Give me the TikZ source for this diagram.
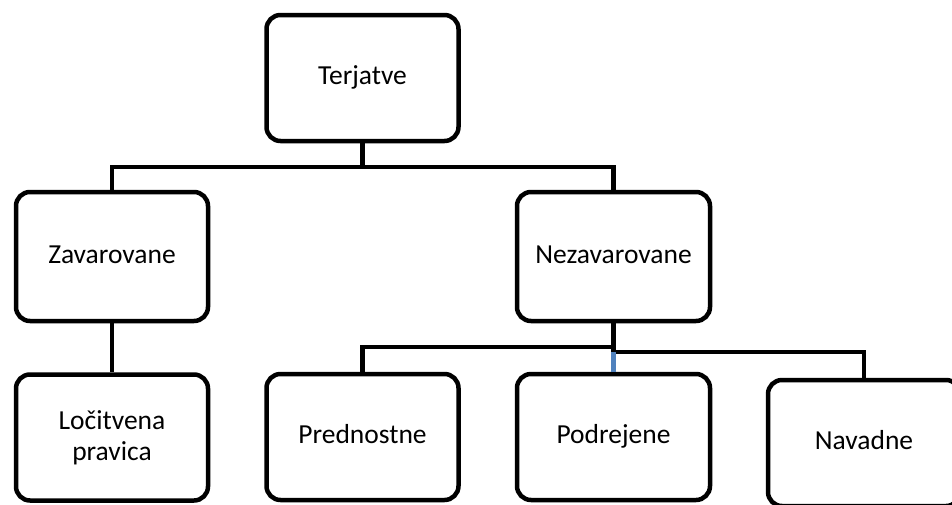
\documentclass[tikz,border=0pt]{standalone}
\usepackage{fontspec}
\setmainfont{Carlito}
\usetikzlibrary{positioning}
\definecolor{linkblue}{HTML}{4F81BD}
\tikzset{
  box/.style={draw, fill=white, line width=4.5pt, rounded corners=14pt,
    minimum width=192pt, minimum height=126pt, inner sep=0pt,
    align=center, font=\fontsize{27.5}{31}\selectfont},
  oneline/.style={box, text height=19pt, text depth=6pt},
  link/.style={line width=4.5pt},
}
\begin{document}
\begin{tikzpicture}[x=1pt,y=-1pt]
\useasboundingbox (0,0) rectangle (952,504);
\clip (0,0) rectangle (952,504);
% boxes
\node[oneline] (terj) at (362.5,78) {Terjatve};
\node[oneline, minimum height=129pt] (zav) at (112,256.5) {Zavarovane};
\node[oneline, minimum width=193pt, minimum height=129pt] (nezav) at (613.5,256.5) {Nezavarovane};
\node[box] (loc) at (112,437.5) {Ločitvena\\pravica};
\node[oneline] (pred) at (362.5,437) {Prednostne};
\node[oneline, minimum width=193pt] (podr) at (613.5,437) {Podrejene};
\node[oneline] (nav) at (864,443) {Navadne};
% connectors
\coordinate (bar1) at (362.5,167);
\coordinate (bar2) at (613.5,347);
\coordinate (bar3) at (613.5,352);
\draw[link] (terj.south) -- (bar1);
\draw[link] (zav.north) |- (bar1) -| (nezav.north);
\draw[link] (zav.south) -- (loc.north);
\draw[link] (nezav.south) -- (bar3);
\draw[link] (pred.north) |- (bar2);
\draw[link] (bar3) -| (nav.north);
\draw[link,linkblue] (bar3) -- (podr.north);
\end{tikzpicture}
\end{document}
